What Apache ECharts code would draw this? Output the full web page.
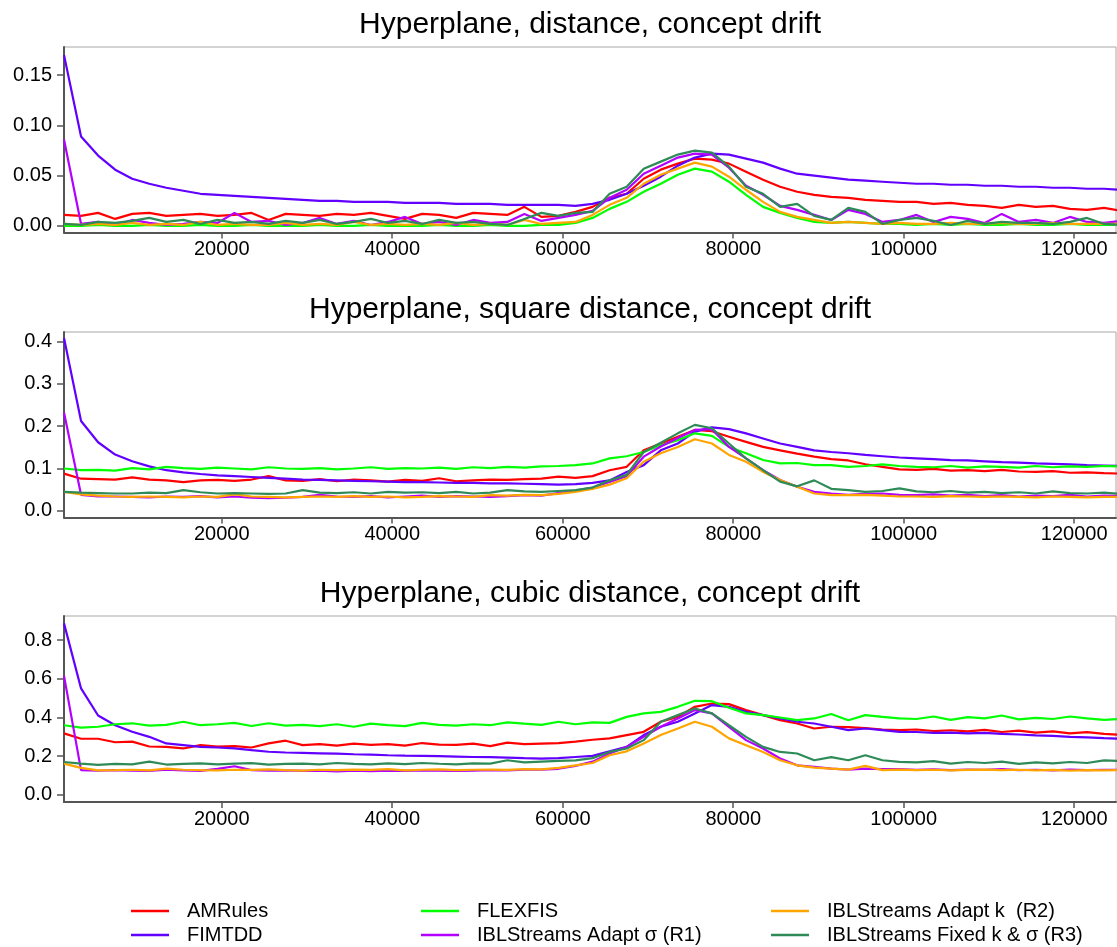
<!DOCTYPE html>
<html>
<head>
<meta charset="utf-8">
<script src="https://cdn.jsdelivr.net/npm/echarts@6/dist/echarts.min.js"></script>
<style>
  html, body { margin: 0; padding: 0; background: #ffffff; }
  #chart { width: 1117px; height: 947px; }
</style>
</head>
<body>
<div id="chart"></div>
<script>
// Sample positions: one reading every 2000 instances, starting at 1500.
const X_START = 1500;
const X_STEP = 2000;

const methodNames = ['AMRules', 'FIMTDD', 'FLEXFIS', 'IBLStreams Adapt σ (R1)', 'IBLStreams Adapt k  (R2)', 'IBLStreams Fixed k & σ (R3)'];
const panelTitles = ['Hyperplane, distance, concept drift', 'Hyperplane, square distance, concept drift', 'Hyperplane, cubic distance, concept drift'];
const xTicks = [20000, 40000, 60000, 80000, 100000, 120000];
const yTicks1 = [0, 0.05, 0.10, 0.15];
const yTicks2 = [0, 0.1, 0.2, 0.3, 0.4];
const yTicks3 = [0, 0.2, 0.4, 0.6, 0.8];

// ---- distance ----
const amr1 = [
  0.011, 0.010, 0.013, 0.007, 0.012, 0.013, 0.010, 0.011, 0.012, 0.010,
  0.011, 0.013, 0.006, 0.012, 0.011, 0.010, 0.012, 0.011, 0.013, 0.010,
  0.007, 0.012, 0.011, 0.008, 0.013, 0.012, 0.011, 0.019, 0.009, 0.010,
  0.014, 0.019, 0.028, 0.032, 0.047, 0.056, 0.062, 0.067, 0.066, 0.062,
  0.054, 0.046, 0.039, 0.034, 0.031, 0.029, 0.028, 0.026, 0.025, 0.024,
  0.024, 0.022, 0.023, 0.021, 0.020, 0.018, 0.021, 0.019, 0.020, 0.017,
  0.016, 0.018, 0.015];
const fim1 = [
  0.170, 0.089, 0.070, 0.056, 0.047, 0.042, 0.038, 0.035, 0.032, 0.031,
  0.030, 0.029, 0.028, 0.027, 0.026, 0.025, 0.025, 0.024, 0.024, 0.024,
  0.023, 0.023, 0.023, 0.022, 0.022, 0.022, 0.021, 0.021, 0.021, 0.021,
  0.020, 0.022, 0.026, 0.032, 0.040, 0.049, 0.060, 0.068, 0.072, 0.071,
  0.067, 0.063, 0.057, 0.052, 0.050, 0.048, 0.046, 0.045, 0.044, 0.043,
  0.042, 0.042, 0.041, 0.041, 0.040, 0.040, 0.039, 0.039, 0.038, 0.038,
  0.037, 0.037, 0.036];
const flex1 = [
  0.000, 0.000, 0.001, 0.000, 0.000, 0.001, 0.000, 0.000, 0.001, 0.000,
  0.000, 0.001, 0.000, 0.000, 0.000, 0.001, 0.000, 0.000, 0.001, 0.000,
  0.000, 0.000, 0.001, 0.000, 0.000, 0.001, 0.000, 0.000, 0.001, 0.001,
  0.003, 0.008, 0.017, 0.024, 0.034, 0.042, 0.051, 0.057, 0.054, 0.044,
  0.031, 0.019, 0.013, 0.008, 0.004, 0.003, 0.004, 0.003, 0.002, 0.002,
  0.001, 0.002, 0.001, 0.002, 0.001, 0.001, 0.002, 0.001, 0.001, 0.002,
  0.001, 0.001, 0.001];
const iblSigma1 = [
  0.086, 0.002, 0.004, 0.001, 0.006, 0.003, 0.001, 0.002, 0.004, 0.003,
  0.013, 0.004, 0.005, 0.001, 0.003, 0.008, 0.002, 0.005, 0.001, 0.004,
  0.009, 0.002, 0.004, 0.001, 0.006, 0.003, 0.004, 0.012, 0.005, 0.008,
  0.011, 0.015, 0.028, 0.036, 0.052, 0.060, 0.068, 0.072, 0.071, 0.058,
  0.040, 0.031, 0.020, 0.016, 0.011, 0.006, 0.016, 0.012, 0.004, 0.006,
  0.011, 0.004, 0.009, 0.007, 0.003, 0.012, 0.004, 0.006, 0.003, 0.009,
  0.004, 0.003, 0.005];
const iblK1 = [
  0.002, 0.001, 0.002, 0.001, 0.003, 0.001, 0.002, 0.001, 0.004, 0.001,
  0.002, 0.001, 0.001, 0.003, 0.001, 0.002, 0.001, 0.004, 0.001, 0.002,
  0.001, 0.002, 0.001, 0.003, 0.001, 0.002, 0.001, 0.006, 0.002, 0.003,
  0.004, 0.011, 0.021, 0.028, 0.042, 0.051, 0.057, 0.063, 0.059, 0.049,
  0.036, 0.024, 0.014, 0.009, 0.006, 0.003, 0.004, 0.003, 0.002, 0.003,
  0.002, 0.002, 0.003, 0.002, 0.002, 0.003, 0.002, 0.002, 0.003, 0.002,
  0.002, 0.002, 0.002];
const iblFixed1 = [
  0.002, 0.001, 0.004, 0.003, 0.005, 0.008, 0.004, 0.006, 0.002, 0.006,
  0.003, 0.004, 0.002, 0.005, 0.003, 0.006, 0.002, 0.004, 0.007, 0.003,
  0.005, 0.002, 0.006, 0.003, 0.004, 0.002, 0.001, 0.007, 0.013, 0.010,
  0.013, 0.014, 0.032, 0.039, 0.057, 0.064, 0.071, 0.075, 0.073, 0.059,
  0.039, 0.032, 0.019, 0.022, 0.010, 0.006, 0.018, 0.014, 0.002, 0.006,
  0.008, 0.005, 0.001, 0.005, 0.002, 0.004, 0.003, 0.003, 0.002, 0.004,
  0.008, 0.002, 0.001];

// ---- square distance ----
const amr2 = [
  0.088, 0.076, 0.075, 0.074, 0.079, 0.074, 0.072, 0.068, 0.072, 0.073,
  0.071, 0.074, 0.082, 0.072, 0.071, 0.075, 0.070, 0.074, 0.072, 0.069,
  0.073, 0.071, 0.077, 0.070, 0.072, 0.074, 0.073, 0.075, 0.076, 0.081,
  0.078, 0.082, 0.096, 0.104, 0.143, 0.159, 0.175, 0.191, 0.188, 0.175,
  0.163, 0.151, 0.143, 0.135, 0.128, 0.122, 0.119, 0.110, 0.104, 0.098,
  0.097, 0.099, 0.095, 0.096, 0.094, 0.097, 0.093, 0.092, 0.094, 0.090,
  0.091, 0.089, 0.088];
const fim2 = [
  0.408, 0.212, 0.162, 0.133, 0.117, 0.105, 0.096, 0.091, 0.087, 0.084,
  0.082, 0.080, 0.078, 0.076, 0.074, 0.073, 0.072, 0.071, 0.070, 0.069,
  0.068, 0.068, 0.067, 0.066, 0.066, 0.065, 0.065, 0.064, 0.063, 0.062,
  0.063, 0.066, 0.072, 0.092, 0.108, 0.143, 0.159, 0.187, 0.197, 0.193,
  0.183, 0.171, 0.159, 0.151, 0.143, 0.139, 0.136, 0.132, 0.129, 0.126,
  0.124, 0.122, 0.120, 0.119, 0.117, 0.115, 0.114, 0.112, 0.111, 0.110,
  0.108, 0.107, 0.106];
const flex2 = [
  0.100, 0.096, 0.097, 0.095, 0.101, 0.098, 0.104, 0.101, 0.099, 0.102,
  0.100, 0.098, 0.103, 0.100, 0.099, 0.101, 0.098, 0.100, 0.103, 0.099,
  0.101, 0.100, 0.102, 0.099, 0.103, 0.101, 0.104, 0.102, 0.105, 0.106,
  0.108, 0.112, 0.124, 0.129, 0.139, 0.155, 0.167, 0.183, 0.177, 0.151,
  0.136, 0.120, 0.112, 0.113, 0.108, 0.108, 0.104, 0.106, 0.110, 0.106,
  0.104, 0.103, 0.106, 0.102, 0.105, 0.104, 0.102, 0.106, 0.103, 0.105,
  0.104, 0.106, 0.105];
const iblSigma2 = [
  0.232, 0.038, 0.034, 0.034, 0.033, 0.032, 0.034, 0.033, 0.035, 0.032,
  0.034, 0.031, 0.030, 0.031, 0.033, 0.038, 0.034, 0.033, 0.035, 0.032,
  0.034, 0.036, 0.033, 0.035, 0.034, 0.033, 0.035, 0.037, 0.036, 0.042,
  0.048, 0.055, 0.068, 0.082, 0.128, 0.152, 0.172, 0.191, 0.193, 0.151,
  0.124, 0.096, 0.073, 0.057, 0.045, 0.041, 0.038, 0.040, 0.041, 0.038,
  0.037, 0.039, 0.036, 0.038, 0.035, 0.037, 0.034, 0.036, 0.035, 0.038,
  0.034, 0.036, 0.035];
const iblK2 = [
  0.045, 0.039, 0.036, 0.034, 0.033, 0.034, 0.033, 0.032, 0.034, 0.033,
  0.039, 0.034, 0.033, 0.032, 0.033, 0.034, 0.033, 0.035, 0.033, 0.034,
  0.032, 0.033, 0.035, 0.034, 0.033, 0.037, 0.036, 0.038, 0.037, 0.040,
  0.045, 0.052, 0.062, 0.077, 0.116, 0.136, 0.151, 0.169, 0.159, 0.132,
  0.116, 0.092, 0.073, 0.057, 0.041, 0.037, 0.037, 0.038, 0.036, 0.034,
  0.034, 0.033, 0.035, 0.034, 0.033, 0.034, 0.033, 0.032, 0.034, 0.033,
  0.032, 0.033, 0.033];
const iblFixed2 = [
  0.045, 0.043, 0.042, 0.041, 0.041, 0.043, 0.042, 0.049, 0.044, 0.041,
  0.042, 0.041, 0.040, 0.041, 0.049, 0.043, 0.042, 0.044, 0.041, 0.045,
  0.043, 0.044, 0.042, 0.045, 0.041, 0.043, 0.049, 0.046, 0.045, 0.047,
  0.049, 0.055, 0.072, 0.085, 0.139, 0.161, 0.183, 0.203, 0.195, 0.159,
  0.124, 0.096, 0.069, 0.058, 0.072, 0.052, 0.049, 0.045, 0.047, 0.053,
  0.046, 0.044, 0.047, 0.043, 0.045, 0.042, 0.044, 0.041, 0.046, 0.042,
  0.041, 0.043, 0.040];

// ---- cubic distance ----
const amr3 = [
  0.318, 0.290, 0.290, 0.272, 0.275, 0.250, 0.248, 0.240, 0.257, 0.249,
  0.252, 0.245, 0.266, 0.280, 0.257, 0.262, 0.255, 0.265, 0.258, 0.262,
  0.255, 0.268, 0.260, 0.258, 0.265, 0.252, 0.270, 0.262, 0.265, 0.268,
  0.275, 0.285, 0.292, 0.309, 0.326, 0.378, 0.403, 0.455, 0.472, 0.469,
  0.438, 0.412, 0.386, 0.369, 0.343, 0.352, 0.350, 0.345, 0.338, 0.335,
  0.338, 0.330, 0.334, 0.328, 0.336, 0.325, 0.332, 0.322, 0.328, 0.318,
  0.324, 0.315, 0.310];
const fim3 = [
  0.886, 0.550, 0.410, 0.360, 0.326, 0.300, 0.266, 0.257, 0.248, 0.245,
  0.240, 0.231, 0.223, 0.219, 0.217, 0.215, 0.213, 0.210, 0.208, 0.205,
  0.203, 0.202, 0.200, 0.198, 0.196, 0.195, 0.193, 0.190, 0.188, 0.190,
  0.196, 0.202, 0.225, 0.248, 0.309, 0.352, 0.378, 0.421, 0.464, 0.455,
  0.429, 0.412, 0.395, 0.378, 0.369, 0.352, 0.335, 0.343, 0.335, 0.326,
  0.325, 0.320, 0.322, 0.318, 0.320, 0.315, 0.312, 0.308, 0.305, 0.300,
  0.297, 0.293, 0.290];
const flex3 = [
  0.360, 0.348, 0.352, 0.365, 0.370, 0.358, 0.362, 0.378, 0.360, 0.365,
  0.372, 0.356, 0.370, 0.358, 0.362, 0.355, 0.365, 0.352, 0.368, 0.360,
  0.355, 0.372, 0.362, 0.358, 0.365, 0.360, 0.375, 0.368, 0.362, 0.378,
  0.365, 0.375, 0.372, 0.403, 0.421, 0.429, 0.455, 0.486, 0.484, 0.450,
  0.421, 0.412, 0.400, 0.386, 0.395, 0.418, 0.386, 0.412, 0.403, 0.395,
  0.392, 0.405, 0.388, 0.402, 0.395, 0.410, 0.390, 0.398, 0.392, 0.405,
  0.395, 0.388, 0.392];
const iblSigma3 = [
  0.615, 0.128, 0.125, 0.128, 0.126, 0.124, 0.130, 0.127, 0.124, 0.135,
  0.148, 0.128, 0.125, 0.127, 0.124, 0.126, 0.122, 0.125, 0.123, 0.126,
  0.124, 0.127, 0.125, 0.124, 0.126, 0.128, 0.127, 0.130, 0.131, 0.135,
  0.150, 0.172, 0.214, 0.248, 0.300, 0.352, 0.395, 0.438, 0.421, 0.352,
  0.283, 0.240, 0.188, 0.153, 0.145, 0.136, 0.131, 0.136, 0.133, 0.134,
  0.130, 0.132, 0.128, 0.131, 0.129, 0.133, 0.128, 0.130, 0.127, 0.131,
  0.128, 0.130, 0.129];
const iblK3 = [
  0.162, 0.140, 0.127, 0.128, 0.130, 0.127, 0.136, 0.130, 0.128, 0.127,
  0.130, 0.129, 0.132, 0.128, 0.126, 0.130, 0.128, 0.131, 0.129, 0.133,
  0.127, 0.130, 0.132, 0.128, 0.130, 0.131, 0.129, 0.133, 0.132, 0.140,
  0.153, 0.165, 0.205, 0.225, 0.266, 0.309, 0.343, 0.378, 0.352, 0.292,
  0.257, 0.222, 0.179, 0.153, 0.141, 0.136, 0.131, 0.150, 0.128, 0.131,
  0.128, 0.130, 0.127, 0.129, 0.131, 0.128, 0.130, 0.127, 0.129, 0.126,
  0.128, 0.127, 0.128];
const iblFixed3 = [
  0.170, 0.162, 0.155, 0.160, 0.158, 0.172, 0.157, 0.160, 0.163, 0.158,
  0.162, 0.164, 0.157, 0.160, 0.162, 0.158, 0.165, 0.160, 0.158, 0.163,
  0.159, 0.165, 0.161, 0.158, 0.163, 0.162, 0.179, 0.168, 0.172, 0.176,
  0.178, 0.190, 0.222, 0.240, 0.283, 0.378, 0.412, 0.446, 0.421, 0.360,
  0.300, 0.248, 0.222, 0.214, 0.179, 0.195, 0.179, 0.205, 0.179, 0.171,
  0.168, 0.175, 0.162, 0.170, 0.165, 0.172, 0.160, 0.168, 0.163, 0.170,
  0.165, 0.178, 0.175];

const panelSeries = [
  [amr1, fim1, flex1, iblSigma1, iblK1, iblFixed1],
  [amr2, fim2, flex2, iblSigma2, iblK2, iblFixed2],
  [amr3, fim3, flex3, iblSigma3, iblK3, iblFixed3]
];
const panelYTicks = [yTicks1, yTicks2, yTicks3];

// Layout and styling
const FONT = '"Liberation Sans", Arial, Helvetica, sans-serif';
const COLORS = ['#FF0000', '#6200FF', '#00FF00', '#B300FF', '#FFA500', '#2E8B57'];
const PLOT_LEFT = 64;
const PLOT_WIDTH = 1052;
const layout = [
  { top: 47,  height: 185.5, yMin: -0.0065, yMax: 0.178, decimals: 2 },
  { top: 332, height: 185.5, yMin: -0.0156, yMax: 0.4222, decimals: 1 },
  { top: 616, height: 186,   yMin: -0.0365, yMax: 0.924, decimals: 1 }
];
const AXIS_COLOR = '#555555';

const grids = layout.map(l => ({
  left: PLOT_LEFT, top: l.top, width: PLOT_WIDTH, height: l.height,
  show: true, borderColor: '#a8a8a8', borderWidth: 1, backgroundColor: 'transparent'
}));

const xAxes = layout.map((l, p) => ({
  type: 'value', gridIndex: p, min: X_START, max: 124900,
  axisLine: { show: true, onZero: false, lineStyle: { color: AXIS_COLOR, width: 2 } },
  axisTick: { show: true, customValues: xTicks, length: 6, inside: false, lineStyle: { color: AXIS_COLOR, width: 1.5 } },
  axisLabel: { customValues: xTicks, margin: 7, fontSize: 20, fontFamily: FONT, color: '#000',
               formatter: v => String(v) },
  splitLine: { show: false }
}));

const yAxes = layout.map((l, p) => ({
  type: 'value', gridIndex: p, min: l.yMin, max: l.yMax,
  axisLine: { show: true, onZero: false, lineStyle: { color: AXIS_COLOR, width: 2 } },
  axisTick: { show: true, customValues: panelYTicks[p], length: 7, lineStyle: { color: AXIS_COLOR, width: 1.5 } },
  axisLabel: { customValues: panelYTicks[p], margin: 12, fontSize: 20, fontFamily: FONT, color: '#000',
               formatter: v => Number(v).toFixed(l.decimals) },
  splitLine: { show: false }
}));

const series = [];
panelSeries.forEach((group, p) => {
  group.forEach((vals, k) => {
    series.push({
      type: 'line',
      name: methodNames[k],
      xAxisIndex: p, yAxisIndex: p,
      data: vals.map((v, i) => [X_START + i * X_STEP, v]),
      symbol: 'none', showSymbol: false,
      lineStyle: { color: COLORS[k], width: 2.2 },
      itemStyle: { color: COLORS[k] },
      clip: true, silent: true
    });
  });
});

// Legend: three columns of two entries each
const legendCols = [[0, 1], [2, 3], [4, 5]];
const legendLeft = [131, 421, 771];
const legends = legendCols.map((idx, c) => ({
  data: idx.map(k => methodNames[k]),
  orient: 'vertical', left: legendLeft[c], top: 901, padding: 0, itemGap: 4,
  height: 45,
  icon: 'rect', itemWidth: 38, itemHeight: 2.5,
  selectedMode: false,
  textStyle: { fontSize: 20, lineHeight: 20, fontFamily: FONT, color: '#000', padding: [0, 0, 0, 13] }
}));

const titles = panelTitles.map((t, p) => ({
  type: 'text', x: PLOT_LEFT + PLOT_WIDTH / 2, y: layout[p].top - 22,
  style: { text: t, fill: '#000', fontSize: 30, fontFamily: FONT, textAlign: 'center', textVerticalAlign: 'middle' },
  silent: true
}));

const chart = echarts.init(document.getElementById('chart'), null, { renderer: 'canvas' });
chart.setOption({
  animation: false,
  backgroundColor: '#ffffff',
  grid: grids,
  xAxis: xAxes,
  yAxis: yAxes,
  legend: legends,
  graphic: titles,
  series: series
});
</script>
</body>
</html>
